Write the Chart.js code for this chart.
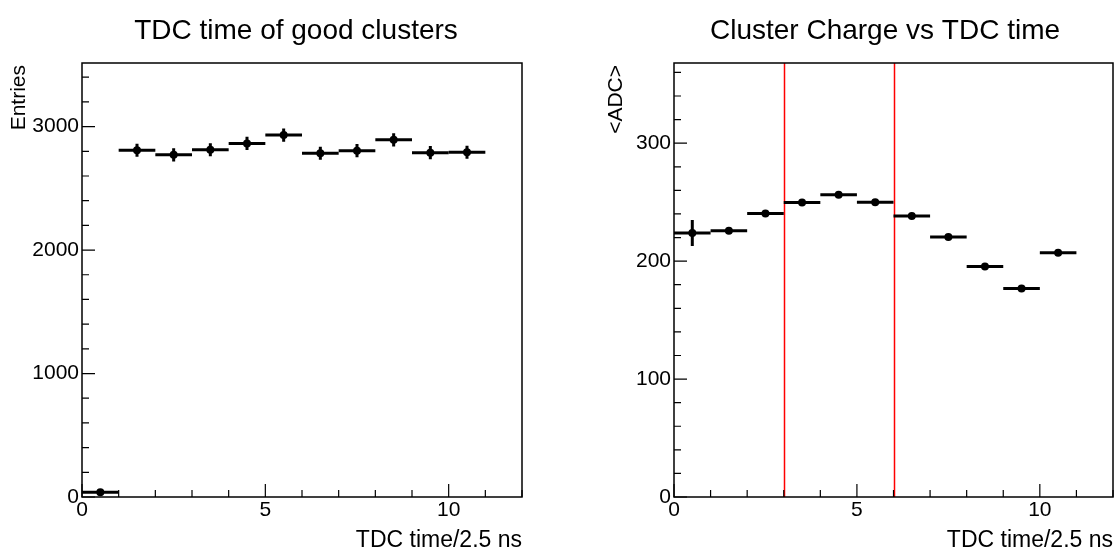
<!DOCTYPE html>
<html>
<head>
<meta charset="utf-8">
<script src="https://cdn.jsdelivr.net/npm/chart.js@4.4.1/dist/chart.umd.min.js"></script>
<style>
  body { margin: 0; background: #fff; width: 1118px; height: 552px; overflow: hidden; display: flex; }
  .pad { width: 559px; height: 552px; }
</style>
</head>
<body>
<div class="pad"><canvas id="left" width="559" height="552"></canvas></div>
<div class="pad"><canvas id="right" width="559" height="552"></canvas></div>
<script>
// bins of TDC time (units of 2.5 ns), one entry per filled bin
const binLow = [0, 1, 2, 3, 4, 5, 6, 7, 8, 9, 10];
const binHigh = [1, 2, 3, 4, 5, 6, 7, 8, 9, 10, 11];
const binCenter = [0.5, 1.5, 2.5, 3.5, 4.5, 5.5, 6.5, 7.5, 8.5, 9.5, 10.5];
const xTicks = [0, 5, 10];

// left: TDC time of good clusters
const entries = [38, 2808, 2771, 2813, 2864, 2931, 2784, 2805, 2893, 2789, 2792];
const entriesErr = [6, 53, 53, 53, 54, 54, 53, 53, 54, 53, 53];
const entriesTicks = [0, 1000, 2000, 3000];

// right: mean cluster charge per TDC bin
const meanAdc = [223.8, 225.8, 240.3, 249.7, 256.3, 249.9, 238.3, 220.4, 195.5, 176.8, 207.1];
const meanAdcErr = [11, 1.5, 1.5, 1.2, 1.2, 1.2, 1.5, 1.5, 1.5, 1.5, 1.5];
const adcTicks = [0, 100, 200, 300];

// timing cut shown in red
const cutLines = [3, 6];

const FONT = "'Liberation Sans', Arial, Helvetica, sans-serif";

function rootStyle(opts) {
  return {
    id: "rootStyle",
    beforeDatasetsDraw(chart) {
      const { ctx, chartArea: a, scales: { x, y } } = chart;
      ctx.save();
      // cut lines
      ctx.strokeStyle = "#ff0000";
      ctx.lineWidth = 1.5;
      (opts.cuts || []).forEach((c) => {
        const px = Math.round(x.getPixelForValue(c)) + 0.5;
        ctx.beginPath();
        ctx.moveTo(px, a.top);
        ctx.lineTo(px, a.bottom);
        ctx.stroke();
      });
      // bin width and error bars
      ctx.strokeStyle = "#000";
      ctx.lineWidth = 3;
      opts.values.forEach((v, i) => {
        const py = y.getPixelForValue(v);
        ctx.beginPath();
        ctx.moveTo(x.getPixelForValue(binLow[i]), py);
        ctx.lineTo(x.getPixelForValue(binHigh[i]), py);
        const px = x.getPixelForValue(binCenter[i]);
        ctx.moveTo(px, y.getPixelForValue(v - opts.errors[i]));
        ctx.lineTo(px, y.getPixelForValue(v + opts.errors[i]));
        ctx.stroke();
      });
      ctx.restore();
    },
    afterDraw(chart) {
      const { ctx, chartArea: a, scales: { x, y } } = chart;
      ctx.save();
      ctx.strokeStyle = "#000";
      ctx.lineWidth = 1.5;
      ctx.strokeRect(a.left, a.top, a.right - a.left, a.bottom - a.top);
      ctx.lineWidth = 1.2;
      ctx.beginPath();
      // x ticks
      for (let t = 0; t <= 12; t += 1) {
        const px = x.getPixelForValue(t);
        const len = t % 5 === 0 ? 13 : 7;
        ctx.moveTo(px, a.bottom);
        ctx.lineTo(px, a.bottom - len);
      }
      // y ticks
      for (let t = 0; t <= y.max; t += opts.minorStep) {
        const py = y.getPixelForValue(t);
        const len = opts.ticks.includes(t) ? 13 : 7;
        ctx.moveTo(a.left, py);
        ctx.lineTo(a.left + len, py);
      }
      ctx.stroke();

      ctx.fillStyle = "#000";
      ctx.font = "28px " + FONT;
      ctx.textAlign = "center";
      ctx.textBaseline = "alphabetic";
      ctx.fillText(opts.title, opts.titleX, 38.5);

      ctx.font = "23px " + FONT;
      ctx.textAlign = "right";
      ctx.fillText("TDC time/2.5 ns", a.right, 547);

      ctx.font = "21px " + FONT;
      ctx.translate(opts.yTitleX, 65);
      ctx.rotate(-Math.PI / 2);
      ctx.textAlign = "right";
      ctx.textBaseline = "middle";
      ctx.fillText(opts.yTitle, 0, 0);
      ctx.restore();
    },
  };
}

function makeChart(id, o) {
  return new Chart(document.getElementById(id), {
    type: "scatter",
    data: {
      datasets: [
        {
          data: binCenter.map((c, i) => ({ x: c, y: o.values[i] })),
          pointRadius: 4,
          pointHoverRadius: 4,
          pointBackgroundColor: "#000",
          pointBorderWidth: 0,
        },
      ],
    },
    options: {
      responsive: false,
      animation: false,
      events: [],
      layout: { padding: { top: 63, right: o.padRight, left: 0, bottom: 0 } },
      plugins: { legend: { display: false }, tooltip: { enabled: false } },
      scales: {
        x: {
          type: "linear",
          min: 0,
          max: 12,
          grid: { display: false, drawTicks: false },
          border: { display: false },
          afterBuildTicks: (s) => { s.ticks = xTicks.map((v) => ({ value: v })); },
          ticks: {
            padding: 1,
            color: "#000",
            font: { family: FONT, size: 21 },
            maxRotation: 0,
            autoSkip: false,
            callback: (v) => String(v),
          },
          afterFit: (s) => { s.height = 55; },
        },
        y: {
          type: "linear",
          min: 0,
          max: o.yMax,
          grid: { display: false, drawTicks: false },
          border: { display: false },
          afterBuildTicks: (s) => { s.ticks = o.ticks.map((v) => ({ value: v })); },
          ticks: {
            padding: 3,
            color: "#000",
            font: { family: FONT, size: 21 },
            autoSkip: false,
            callback: (v) => String(v),
          },
          afterFit: (s) => { s.width = o.axisLeft; },
        },
      },
    },
    plugins: [rootStyle(o)],
  });
}

makeChart("left", {
  values: entries,
  errors: entriesErr,
  ticks: entriesTicks,
  yMax: 3515,
  minorStep: 200,
  axisLeft: 82,
  padRight: 37,
  title: "TDC time of good clusters",
  titleX: 296,
  yTitle: "Entries",
  yTitleX: 19,
});

makeChart("right", {
  values: meanAdc,
  errors: meanAdcErr,
  ticks: adcTicks,
  cuts: cutLines,
  yMax: 368,
  minorStep: 20,
  axisLeft: 115,
  padRight: 5,
  title: "Cluster Charge vs TDC time",
  titleX: 326,
  yTitle: "<ADC>",
  yTitleX: 57,
});
</script>
</body>
</html>
